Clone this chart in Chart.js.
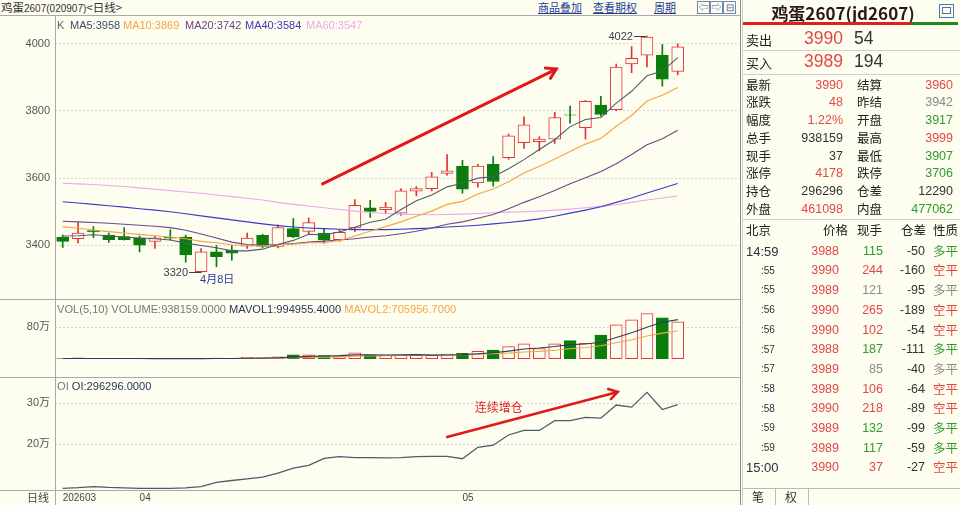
<!DOCTYPE html>
<html><head><meta charset="utf-8">
<script src="https://cdn.jsdelivr.net/npm/chart.js@4.4.1/dist/chart.umd.min.js"></script>
<style>
html,body{margin:0;padding:0;}
body{background:#fefef0;width:960px;height:505px;overflow:hidden;position:relative;font-family:"Liberation Sans","Noto Sans CJK SC",sans-serif;color:#333;}
.a{position:absolute;white-space:nowrap;}
.hl{position:absolute;height:1px;background:#a9a9a9;}
.vl{position:absolute;width:1px;background:#a9a9a9;}
canvas{position:absolute;left:0;}
</style></head><body>
<canvas id="cMain" width="740" height="283" style="top:16px;width:740px;height:283px"></canvas>
<canvas id="cVol" width="740" height="78" style="top:299px;width:740px;height:78px"></canvas>
<canvas id="cOI" width="740" height="128" style="top:377px;width:740px;height:128px"></canvas>
<script>
// ---------------- data ----------------
const dates = ['2026-03-25','2026-03-26','2026-03-27','2026-03-30','2026-03-31',
 '2026-04-01','2026-04-02','2026-04-03','2026-04-07','2026-04-08','2026-04-09','2026-04-10',
 '2026-04-13','2026-04-14','2026-04-15','2026-04-16','2026-04-17','2026-04-20','2026-04-21',
 '2026-04-22','2026-04-23','2026-04-24','2026-04-27','2026-04-28','2026-04-29','2026-04-30',
 '2026-05-06','2026-05-07','2026-05-08','2026-05-11','2026-05-12','2026-05-13','2026-05-14',
 '2026-05-15','2026-05-18','2026-05-19','2026-05-20','2026-05-21','2026-05-22','2026-05-25','2026-05-26'];
const openPrices  = [3425,3420,3444,3431,3426,3422,3412,3424,3425,3322,3381,3386,3398,3430,3397,3450,3442,3436,3417,3452,
 3512,3506,3496,3561,3569,3614,3636,3586,3641,3661,3705,3708,3716,3788,3750,3817,3803,3939,3965,3965,3917];
const highPrices  = [3431,3468,3456,3437,3453,3428,3428,3447,3431,3391,3400,3400,3437,3433,3461,3480,3482,3450,3447,3536,
 3534,3528,3569,3575,3617,3670,3653,3641,3664,3731,3782,3723,3796,3814,3831,3843,3939,3991,4022,3997,3999];
const lowPrices   = [3394,3407,3423,3409,3416,3381,3391,3416,3350,3320,3337,3356,3391,3393,3393,3423,3435,3407,3412,3442,
 3483,3494,3489,3547,3562,3609,3555,3573,3576,3656,3688,3681,3703,3763,3716,3784,3800,3913,3930,3873,3907];
const closePrices = [3412,3437,3440,3417,3417,3401,3423,3422,3372,3381,3367,3377,3422,3397,3453,3425,3468,3417,3439,3519,
 3501,3514,3562,3569,3604,3622,3567,3636,3590,3726,3758,3716,3780,3787,3828,3789,3930,3956,4019,3894,3990];
const ma5  = [3428,3429,3432,3428,3425,3422,3420,3416,3407,3400,3393,3384,3384,3389,3403,3415,3433,3432,3440,3454,
 3469,3478,3507,3533,3550,3574,3585,3600,3604,3628,3655,3685,3714,3753,3774,3780,3823,3858,3904,3918,3958];
const ma10 = [3456,3451,3446,3441,3437,3433,3429,3425,3420,3412,3408,3402,3400,3398,3402,3404,3408,3408,3415,3428,
 3442,3456,3470,3487,3502,3522,3531,3553,3568,3589,3615,3635,3657,3679,3701,3718,3754,3786,3829,3846,3869];
const ma20 = [3472,3470,3468,3466,3463,3460,3457,3453,3445,3434,3422,3410,3403,3401,3403,3406,3410,3413,3416,3420,
 3425,3429,3435,3442,3452,3463,3470,3481,3492,3509,3528,3545,3563,3583,3601,3620,3643,3670,3699,3717,3742];
const ma40 = [3530,3526,3522,3518,3514,3509,3505,3500,3494,3488,3482,3476,3470,3464,3459,3455,3452,3450,3448,3447,
 3447,3447,3448,3450,3452,3455,3457,3460,3464,3468,3473,3479,3487,3496,3505,3515,3528,3541,3556,3570,3584];
const ma60 = [3585,3583,3581,3578,3575,3571,3567,3563,3559,3555,3550,3545,3540,3535,3528,3522,3517,3512,3507,3502,
 3498,3495,3493,3492,3491,3492,3493,3495,3497,3499,3500,3502,3505,3508,3512,3516,3521,3528,3535,3541,3547];
const volume = [6000,22000,3000,3000,2000,3000,3000,4000,6000,5000,20000,8000,35000,20000,50000,100000,100000,80000,70000,150000,
 95000,90000,90000,95000,90000,120000,135000,190000,220000,310000,380000,260000,380000,460000,390000,600000,860000,990000,1150000,1037000,938159];
const mavol1 = [5000,5000,5000,5000,7200,6600,2800,3000,3600,4200,7600,8600,14800,17600,26600,42600,61000,70000,80000,100000,
 99000,97000,99000,104000,92000,97000,106000,126000,151000,195000,247000,272000,310000,358000,374000,418000,538000,660000,798000,927000,994955];
const mavol2 = [6000,6000,6000,6000,6000,6000,6000,6000,6000,5700,7100,5700,8900,10600,15400,25100,34800,42400,48800,63300,
 70800,79000,84500,92000,96000,98000,101500,112500,127500,143500,172000,189000,218000,254500,284500,332500,405000,485000,578000,650700,705957];
const openInterest = [92000,93500,96000,94000,93000,92000,92000,92000,93000,96000,106500,111000,115000,119000,129000,141000,148000,165000,169000,167000,
 167000,166000,167000,169000,170000,170000,164000,192000,197000,222000,233000,233000,257000,257000,265000,263000,295000,290000,326000,284006,296296];
const priceTicks = [3400,3600,3800,4000];
const volumeTicks = [800000];
const oiTicks = [200000,300000];
const monthTickIndex = [0,5,26];
const monthTickLabels = ['202603','04','05'];

// ---------------- style ----------------
const BG='#fefef0', RED='#e23434', GREEN='#0c7d0c';
const C_MA5='#4d5c6c', C_MA10='#f2a445', C_MA20='#6a4a88', C_MA40='#3a3ac8', C_MA60='#eea6ee';
const FONT='"Liberation Sans","Noto Sans CJK SC",sans-serif';
const isUp = closePrices.map((c,i)=>c>=openPrices[i]);
const pts = arr => arr.map((v,i)=>({x:i,y:v}));

function xScale(show){
  return {type:'linear', min:-0.5, max:44.05, display:show, offset:false,
    grid:{display:false, drawTicks:false, tickLength:0}, border:{display:false},
    afterBuildTicks:s=>{ s.ticks = monthTickIndex.map(v=>({value:v})); },
    afterFit:s=>{ s.height=15; s.paddingLeft=0; s.paddingRight=0; },
    ticks:{autoSkip:false, maxRotation:0, minRotation:0, align:'start', padding:2, color:'#444',
      font:{size:10,family:FONT},
      callback:v=>{ const k=monthTickIndex.indexOf(v); return k>=0?monthTickLabels[k]:''; }}
  };
}
function yScale(min,max,ticks,fmt){
  return {position:'left', min, max,
    afterBuildTicks:s=>{ s.ticks = ticks.map(v=>({value:v})); },
    afterFit:s=>{ s.width=55; s.paddingTop=0; s.paddingBottom=0; },
    grid:{color:'#d6d6d6', drawTicks:false, lineWidth:1},
    border:{display:false, dash:[2,2]},
    ticks:{padding:5, color:'#555', font:{size:11,family:FONT}, callback:fmt}
  };
}
const base = {responsive:false, animation:false, devicePixelRatio:1, layout:{padding:0},
  plugins:{legend:{display:false}, tooltip:{enabled:false}}};

function arrow(ctx,x1,y1,x2,y2,w,len){
  ctx.save(); ctx.strokeStyle='#e01a1a'; ctx.lineWidth=w; ctx.lineCap='round';
  ctx.beginPath(); ctx.moveTo(x1,y1); ctx.lineTo(x2,y2); ctx.stroke();
  const a=Math.atan2(y1-y2,x1-x2);
  ctx.beginPath();
  ctx.moveTo(x2+len*Math.cos(a+0.55), y2+len*Math.sin(a+0.55)); ctx.lineTo(x2,y2);
  ctx.lineTo(x2+len*Math.cos(a-0.55), y2+len*Math.sin(a-0.55)); ctx.stroke();
  ctx.restore();
}

const mainNotes = {id:'mainNotes', afterDraw(chart){
  const {ctx, scales:{x,y}} = chart;
  arrow(ctx, x.getPixelForValue(16.9), y.getPixelForValue(3583), x.getPixelForValue(32.1), y.getPixelForValue(3924), 3, 11);
  const hi = highPrices.indexOf(Math.max(...highPrices));
  const lo = lowPrices.indexOf(Math.min(...lowPrices));
  ctx.save();
  ctx.font='11px '+FONT; ctx.textBaseline='middle';
  let px=x.getPixelForValue(hi), py=Math.round(y.getPixelForValue(highPrices[hi]))+0.5;
  ctx.fillStyle='#39404e'; ctx.textAlign='right'; ctx.fillText(String(highPrices[hi]), px-14, py);
  ctx.strokeStyle='#39404e'; ctx.lineWidth=1; ctx.beginPath(); ctx.moveTo(px-13,py); ctx.lineTo(px-1,py); ctx.stroke();
  px=x.getPixelForValue(lo); py=Math.round(y.getPixelForValue(lowPrices[lo]))+0.5;
  ctx.fillText(String(lowPrices[lo]), px-13, py);
  ctx.beginPath(); ctx.moveTo(px-12,py); ctx.lineTo(px,py); ctx.stroke();
  const d = dates[lo].split('-');
  ctx.fillStyle='#2b36a6'; ctx.textAlign='left';
  ctx.fillText(parseInt(d[1])+'月'+parseInt(d[2])+'日', px-1, py+7);
  ctx.restore();
}};

new Chart(document.getElementById('cMain'), {
  type:'bar',
  data:{datasets:[
    {type:'line', data:pts(ma5), borderColor:C_MA5, borderWidth:1.1, pointRadius:0, order:1},
    {type:'line', data:pts(ma10), borderColor:C_MA10, borderWidth:1.1, pointRadius:0, order:1},
    {type:'line', data:pts(ma20), borderColor:C_MA20, borderWidth:1.1, pointRadius:0, order:1},
    {type:'line', data:pts(ma40), borderColor:C_MA40, borderWidth:1.1, pointRadius:0, order:1},
    {type:'line', data:pts(ma60), borderColor:C_MA60, borderWidth:1.1, pointRadius:0, order:1},
    {type:'bar', data:openPrices.map((o,i)=>({x:i,y:[o,closePrices[i]]})), grouped:false, barThickness:12,
      backgroundColor:isUp.map(u=>u?BG:GREEN), borderColor:isUp.map(u=>u?RED:GREEN), borderWidth:1, borderSkipped:false, order:2},
    {type:'bar', data:lowPrices.map((l,i)=>({x:i,y:[l,highPrices[i]]})), grouped:false, barThickness:1,
      backgroundColor:isUp.map(u=>u?RED:GREEN), borderWidth:0, order:3}
  ]},
  options:Object.assign({}, base, {scales:{
    x:xScale(false),
    y:yScale(3285.5, 4081.6, priceTicks, v=>String(v))
  }}),
  plugins:[mainNotes]
});

new Chart(document.getElementById('cVol'), {
  type:'bar',
  data:{datasets:[
    {type:'line', data:pts(mavol1), borderColor:'#2c3c5c', borderWidth:1.1, pointRadius:0, order:1},
    {type:'line', data:pts(mavol2), borderColor:'#f2a848', borderWidth:1.1, pointRadius:0, order:1},
    {type:'bar', data:pts(volume), grouped:false, barThickness:12,
      backgroundColor:isUp.map(u=>u?BG:GREEN), borderColor:isUp.map(u=>u?RED:GREEN), borderWidth:1, borderSkipped:false, order:2}
  ]},
  options:Object.assign({}, base, {scales:{
    x:xScale(false),
    y:yScale(-82051, 1517949, volumeTicks, v=>(v/10000)+'万')
  }})
});

const oiNotes = {id:'oiNotes', afterDraw(chart){
  const {ctx, scales:{x,y}} = chart;
  arrow(ctx, x.getPixelForValue(25.0), y.getPixelForValue(217000), x.getPixelForValue(36.1), y.getPixelForValue(327000), 2.5, 10);
  ctx.save(); ctx.font='12px "Noto Sans CJK SC",sans-serif'; ctx.fillStyle='#e02828';
  ctx.textBaseline='middle'; ctx.textAlign='left';
  ctx.fillText('连续增仓', x.getPixelForValue(26.8), y.getPixelForValue(288000));
  ctx.restore();
}};

new Chart(document.getElementById('cOI'), {
  type:'line',
  data:{datasets:[
    {data:pts(openInterest), borderColor:'#4e5b6a', borderWidth:1.3, pointRadius:0}
  ]},
  options:Object.assign({}, base, {scales:{
    x:xScale(true),
    y:yScale(87805, 363415, oiTicks, v=>(v/10000)+'万')
  }}),
  plugins:[oiNotes]
});

// ---------------- surrounding text / frame ----------------
function el(cls, css, html){ const d=document.createElement('div'); d.className=cls; d.style.cssText=css; if(html!==undefined) d.innerHTML=html; document.body.appendChild(d); return d; }
function txt(text, x, cy, size, color, align, weight, fam){
  const h=size+6;
  let css=`top:${cy-h/2}px;height:${h}px;line-height:${h}px;font-size:${size}px;color:${color};font-weight:${weight||400};font-family:${fam||FONT};`;
  if(align==='right') css+=`right:${960-x}px;`; else if(align==='center') css+=`left:${x-120}px;width:240px;text-align:center;`; else css+=`left:${x}px;`;
  return el('a', css, text);
}
// frame lines
el('hl','left:0;top:15px;width:740px;');
el('hl','left:0;top:299px;width:740px;');
el('hl','left:0;top:377px;width:740px;');
el('hl','left:0;top:490px;width:740px;');
el('vl','left:55px;top:15px;height:490px;');
el('vl','left:740px;top:0;height:505px;background:#8c8c8c;');
el('vl','left:742px;top:0;height:505px;background:#d0d0d0;');

// header
el('a','left:1px;top:0;height:14px;line-height:14px;color:#333;font-family:"Noto Sans CJK SC",sans-serif;font-size:11.5px;',
  '鸡蛋<span style="font-family:\'Liberation Sans\';font-size:10px">2607(020907)</span>&lt;日线&gt;');
const LK='color:#1f3d98;text-decoration:underline;font-family:"Noto Sans CJK SC",sans-serif;font-size:11px;height:14px;line-height:14px;top:0;';
el('a', LK+'left:538px;', '商品叠加');
el('a', LK+'left:593px;', '查看期权');
el('a', LK+'left:654px;', '周期');
['⇦','⇨','⊟'].forEach((g,i)=>el('a',`left:${697+i*13}px;top:1px;width:11px;height:11px;border:1px solid #6f86b8;color:#4a64a0;font-size:10px;line-height:11px;text-align:center;`, g));

// main legend
txt('K', 57, 25, 11, '#666');
txt('MA5:3958', 70, 25, 11, '#3b5068');
txt('MA10:3869', 123, 25, 11, '#f2a445');
txt('MA20:3742', 185, 25, 11, '#6b3f8c');
txt('MA40:3584', 245, 25, 11, '#3a3ac0');
txt('MA60:3547', 306, 25, 11, '#eea6ee');
// vol legend
el('a','left:57px;top:302px;height:14px;line-height:14px;font-size:11.1px;color:#777;',
  'VOL(5,10) VOLUME:938159.0000 <span style="color:#26365a">MAVOL1:994955.4000</span> <span style="color:#f2a848">MAVOL2:705956.7000</span>');
el('a','left:57px;top:379px;height:14px;line-height:14px;font-size:11.1px;color:#777;',
  'OI <span style="color:#26365a">OI:296296.0000</span>');
txt('日线', 27, 497, 11, '#444', 'left', 400, '"Noto Sans CJK SC",sans-serif');

// ---------------- right panel ----------------
const CJK='"Noto Sans CJK SC",sans-serif';
const R='#e04848', G='#2f9a2f', K='#333', GY='#8a8a8a';
txt('鸡蛋2607(jd2607)', 843, 12, 17, '#2a1818', 'center', 700, CJK);
el('a','left:939px;top:4px;width:13px;height:12px;border:1px solid #4f73b5;');
el('a','left:942px;top:7px;width:7px;height:5px;border:1px solid #4f73b5;');
el('a','left:743px;top:22px;width:168px;height:3px;background:#e02020;');
el('a','left:911px;top:22px;width:47px;height:3px;background:#1d8a1d;');
el('hl','left:743px;top:50px;width:217px;background:#cfcfcf;');
el('hl','left:743px;top:74px;width:217px;background:#cfcfcf;');
txt('卖出', 746, 39, 13, '#222', 'left', 400, CJK);
txt('3990', 843, 39, 17.5, R, 'right');
txt('54', 854, 39, 17.5, '#333');
txt('买入', 746, 62, 13, '#222', 'left', 400, CJK);
txt('3989', 843, 62, 17.5, R, 'right');
txt('194', 854, 62, 17.5, '#333');
const stats = [['最新','3990',R,'结算','3960',R],['涨跌','48',R,'昨结','3942',GY],['幅度','1.22%',R,'开盘','3917',G],
 ['总手','938159',K,'最高','3999',R],['现手','37',K,'最低','3907',G],['涨停','4178',R,'跌停','3706',G],
 ['持仓','296296',K,'仓差','12290',K],['外盘','461098',R,'内盘','477062',G]];
stats.forEach((r,k)=>{
  const cy=85+17.7*k;
  txt(r[0],746,cy,12.5,'#222','left',400,CJK);
  txt(r[1],843,cy,12.5,r[2],'right');
  txt(r[3],857,cy,12.5,'#222','left',400,CJK);
  txt(r[4],953,cy,12.5,r[5],'right');
});
el('hl','left:743px;top:219px;width:217px;background:#cfcfcf;');
txt('北京',746,230,12.5,'#222','left',400,CJK);
txt('价格',823,230,12.5,'#222','left',400,CJK);
txt('现手',857,230,12.5,'#222','left',400,CJK);
txt('仓差',901,230,12.5,'#222','left',400,CJK);
txt('性质',933,230,12.5,'#222','left',400,CJK);
const ticks = [['14:59','3988','115',G,'-50','多平',G],[':55','3990','244',R,'-160','空平',R],[':55','3989','121',GY,'-95','多平',GY],
 [':56','3990','265',R,'-189','空平',R],[':56','3990','102',R,'-54','空平',R],[':57','3988','187',G,'-111','多平',G],
 [':57','3989','85',GY,'-40','多平',GY],[':58','3989','106',R,'-64','空平',R],[':58','3990','218',R,'-89','空平',R],
 [':59','3989','132',G,'-99','多平',G],[':59','3989','117',G,'-59','多平',G],['15:00','3990','37',R,'-27','空平',R]];
ticks.forEach((r,k)=>{
  const cy=251+19.7*k;
  if(r[0].length>3) txt(r[0],746,cy,13,'#2a3040'); else txt(r[0],761,cy,10,'#2a3040');
  txt(r[1],839,cy,12.5,R,'right');
  txt(r[2],883,cy,12.5,r[3],'right');
  txt(r[4],925,cy,12.5,'#333','right');
  txt(r[5],933,cy,12.5,r[6],'left',400,CJK);
});
el('hl','left:743px;top:488px;width:217px;background:#b9b9b9;');
el('a','left:743px;top:489px;width:32px;height:16px;border-right:1px solid #b9b9b9;background:#fefef0;');
el('a','left:776px;top:489px;width:32px;height:16px;border-right:1px solid #b9b9b9;');
txt('笔',752,497,12,'#333','left',400,CJK);
txt('权',785,497,12,'#333','left',400,CJK);
</script>
</body></html>
